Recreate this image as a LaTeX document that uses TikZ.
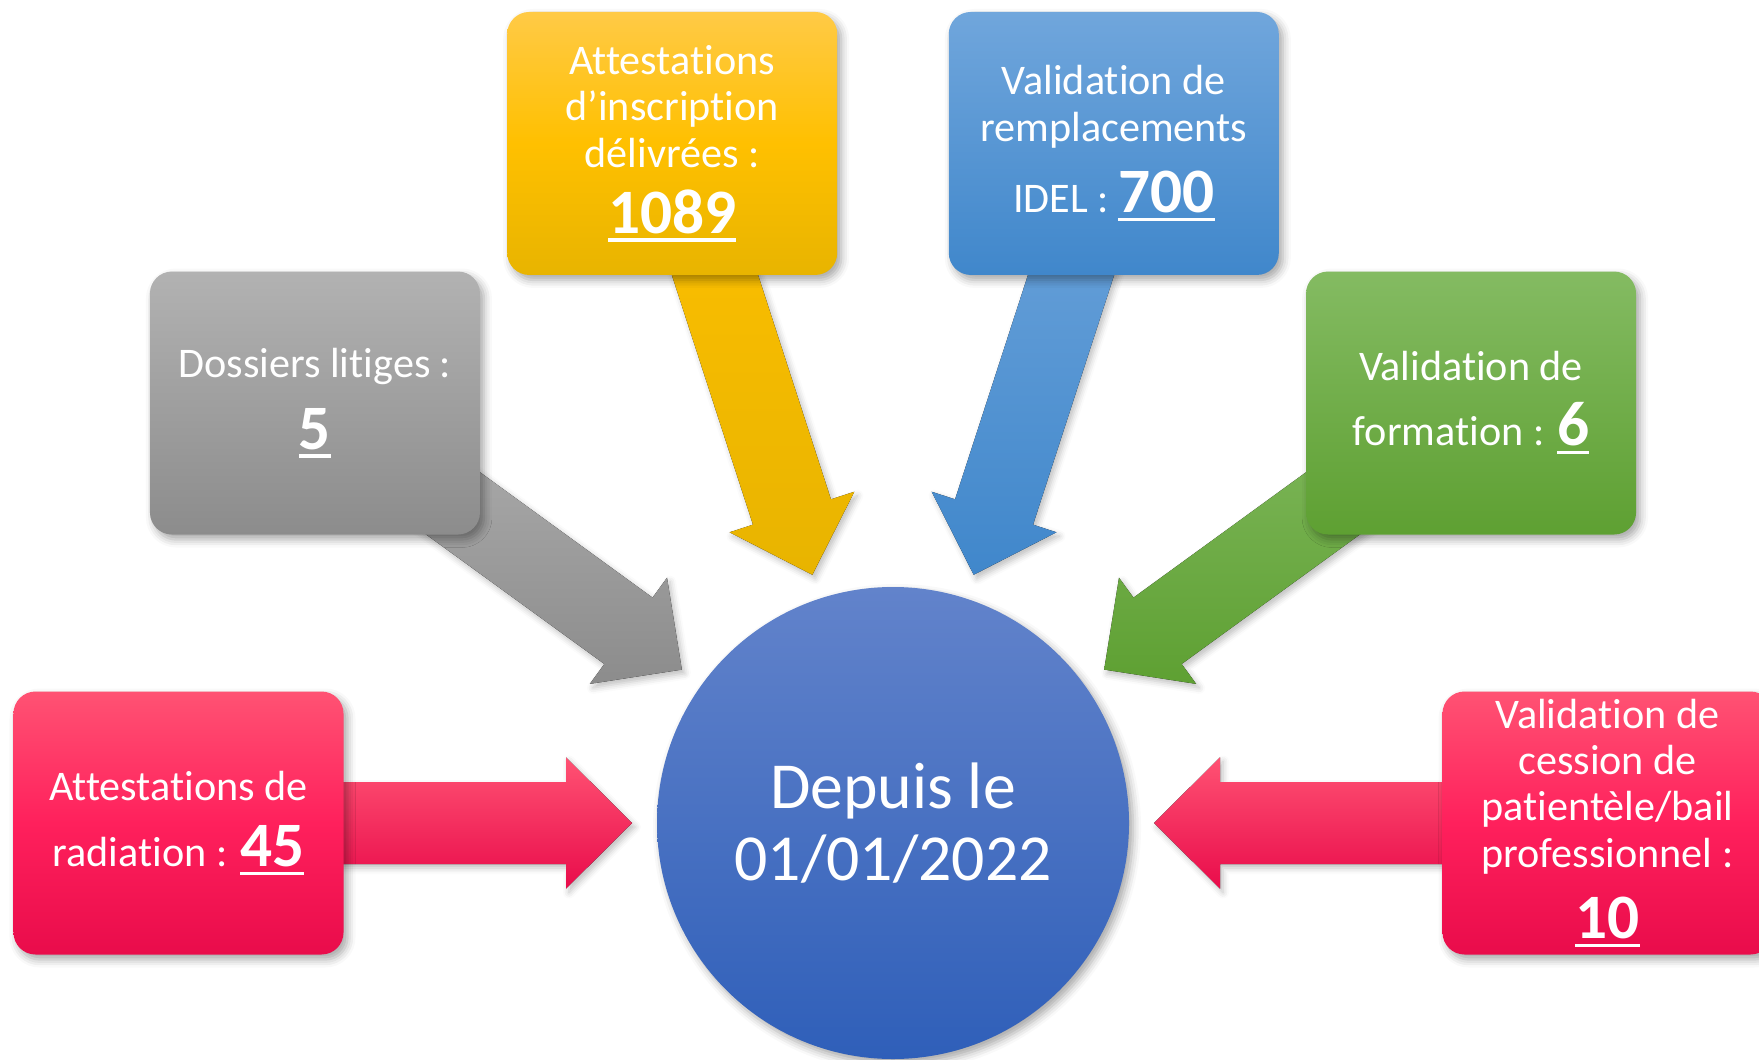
\documentclass[tikz,border=0pt]{standalone}
\usepackage{fontspec}
\setmainfont{Carlito}[Ligatures={TeX,NoCommon,NoContextual}]
\usetikzlibrary{calc,backgrounds,shadows.blur}

\definecolor{redtop}{RGB}{255,82,115}
\definecolor{redmid}{RGB}{255,32,92}
\definecolor{redbot}{RGB}{233,12,75}
\definecolor{graytop}{RGB}{178,178,178}
\definecolor{graybot}{RGB}{140,140,140}
\definecolor{yeltop}{RGB}{255,202,70}
\definecolor{yelmid}{RGB}{255,192,0}
\definecolor{yelbot}{RGB}{232,180,0}
\definecolor{bluetop}{RGB}{112,166,220}
\definecolor{bluebot}{RGB}{64,135,203}
\definecolor{greentop}{RGB}{132,187,98}
\definecolor{greenbot}{RGB}{94,160,50}
\definecolor{hubtop}{RGB}{98,131,203}
\definecolor{hubbot}{RGB}{47,95,185}

\newcommand{\countval}[1]{{\fontsize{18}{19}\selectfont\bfseries
  \setbox0\hbox{#1}\rlap{\rule[-2.4pt]{\wd0}{0.95pt}}\box0}}

\begin{document}
\begin{tikzpicture}[
    tally/.style={rounded corners=0.22cm, minimum width=3.3cm, minimum height=2.63cm,
      inner sep=1pt, align=center, text=white, font=\fontsize{12}{13.2}\selectfont,
      blur shadow={shadow xshift=0.04cm, shadow yshift=-0.05cm, shadow blur radius=0.08cm, shadow opacity=35}},
    hub/.style={circle, minimum size=4.72cm, inner sep=0pt, align=center, text=white,
      font=\fontsize{18.7}{20.4}\selectfont, top color=hubtop, bottom color=hubbot,
      blur shadow={shadow xshift=0.04cm, shadow yshift=-0.05cm, shadow blur radius=0.08cm, shadow opacity=35}},
    pointer/.style={blur shadow={shadow xshift=0.03cm, shadow yshift=-0.04cm, shadow blur radius=0.06cm, shadow opacity=25}}
  ]
  \useasboundingbox (0,0) rectangle (17.59,10.59);

  \node[hub] (hub) at (8.93,2.36) {Depuis le\\01/01/2022};

  \node[tally, top color=redtop, bottom color=redbot, middle color=redmid] (radiation) at ($(hub)+(180:7.145)$)
    {Attestations de\\[5.6pt]radiation : \countval{45}};
  \node[tally, top color=graytop, bottom color=graybot] (litiges) at ($(hub)+(144:7.145)$)
    {Dossiers litiges :\\[5.6pt]\countval{5}};
  \node[tally, top color=yeltop, bottom color=yelbot, middle color=yelmid] (inscription) at ($(hub)+(108:7.145)$)
    {Attestations\\d’inscription\\délivrées :\\[5.6pt]\countval{1089}};
  \node[tally, top color=bluetop, bottom color=bluebot] (remplacement) at ($(hub)+(72:7.145)$)
    {Validation de\\remplacements\\[5.6pt]IDEL : \countval{700}};
  \node[tally, top color=greentop, bottom color=greenbot] (formation) at ($(hub)+(36:7.145)$)
    {Validation de\\[5.3pt]formation : \countval{6}};
  \node[tally, top color=redtop, bottom color=redbot, middle color=redmid] (cession) at ($(hub)+(0:7.145)$)
    {Validation de\\cession de\\patientèle/bail\\professionnel :\\[5.6pt]\countval{10}};

  % block arrows from each box towards the hub
  \begin{scope}[on background layer]
    \foreach \src/\tc/\bc in {radiation/redtop/redbot, litiges/graytop/graybot,
        inscription/yelmid/yelbot, remplacement/bluetop/bluebot,
        formation/greentop/greenbot, cession/redtop/redbot}{
      \coordinate (tip) at ($(hub)!2.61cm!(\src)$);
      \coordinate (neck) at ($(tip)!0.66cm!(\src)$);
      \fill[pointer, top color=\tc, bottom color=\bc]
        ($(\src)!0.41cm!90:(tip)$) -- ($(neck)!0.41cm!90:(tip)$)
        -- ($(neck)!0.656cm!90:(tip)$) -- (tip) -- ($(neck)!0.656cm!-90:(tip)$)
        -- ($(neck)!0.41cm!-90:(tip)$) -- ($(\src)!0.41cm!-90:(tip)$) -- cycle;
    }
  \end{scope}
\end{tikzpicture}
\end{document}
